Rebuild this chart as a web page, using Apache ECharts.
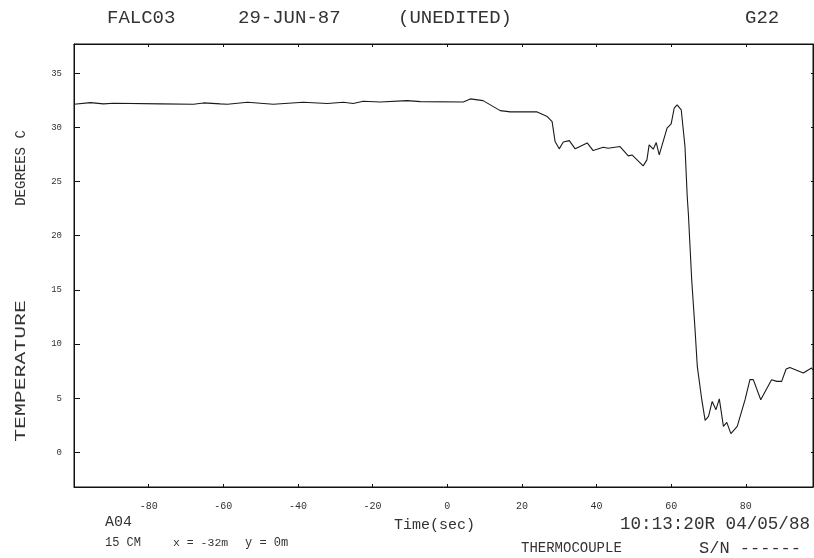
<!DOCTYPE html>
<html>
<head>
<meta charset="utf-8">
<script src="https://cdn.jsdelivr.net/npm/echarts@6/dist/echarts.min.js"></script>
<style>
html,body{margin:0;padding:0;background:#fff;}
#chart{width:814px;height:558px;}
</style>
</head>
<body>
<div id="chart"></div>
<script>
// Time axis (seconds) and temperature (degrees C)
var timeSec = [-100, -95.6, -92.1, -89.4, -76.8, -68.0, -65.3, -60.8, -58.9, -53.5,
  -46.6, -38.6, -32.1, -27.8, -25.2, -22.5, -18.0, -10.7, -7.2, 4.3,
  6.2, 9.6, 14.2, 16.9, 24.1, 26.8, 28.1, 28.9, 30.0, 31.1,
  32.7, 34.3, 37.5, 39.1, 41.8, 43.1, 46.3, 48.5, 49.5, 52.5,
  53.5, 54.1, 55.2, 56.0, 56.8, 58.9, 60.0, 60.8, 61.6, 62.7,
  63.7, 64.3, 64.6, 65.5, 66.4, 67.0, 68.2, 69.1, 70.0, 71.0,
  72.0, 72.9, 74.0, 74.9, 76.0, 77.7, 79.8, 81.1, 82.0, 84.0,
  86.9, 88.3, 89.6, 90.8, 91.8, 95.4, 97.6, 98];
var tempC = [32.14, 32.29, 32.17, 32.23, 32.17, 32.14, 32.26, 32.17, 32.14, 32.32,
  32.14, 32.32, 32.20, 32.32, 32.20, 32.42, 32.35, 32.47, 32.38, 32.35,
  32.63, 32.47, 31.55, 31.43, 31.43, 31.00, 30.54, 28.69, 28.02, 28.66,
  28.78, 28.02, 28.57, 27.86, 28.17, 28.08, 28.23, 27.37, 27.46, 26.45,
  27.00, 28.39, 27.99, 28.60, 27.46, 29.93, 30.32, 31.77, 32.08, 31.61,
  28.23, 23.62, 22.08, 15.93, 11.32, 7.93, 4.86, 2.95, 3.32, 4.70,
  3.94, 4.93, 2.40, 2.77, 1.73, 2.40, 4.86, 6.71, 6.71, 4.86,
  6.71, 6.55, 6.55, 7.69, 7.84, 7.32, 7.79, 7.6];
var xTicks = [-80, -60, -40, -20, 0, 20, 40, 60, 80];
var yTicks = [0, 5, 10, 15, 20, 25, 30, 35];

var title = ['FALC03', '29-JUN-87', '(UNEDITED)', 'G22'];
var yNames = ['DEGREES C', 'TEMPERATURE'];
var xName = 'Time(sec)';
var footLeft = ['A04', '15 CM', 'x = -32m', 'y = 0m'];
var footRight = ['10:13:20R 04/05/88', 'THERMOCOUPLE', 'S/N ------'];

var pts = timeSec.map(function (t, i) { return [t, tempC[i]]; });

var MONO = '"Liberation Mono", "DejaVu Sans Mono", monospace';
var INK = '#333';
function txt(s, x, y, size, extra, align) {
  var o = { type: 'text', x: x, y: y, silent: true,
    style: { text: s, x: 0, y: 0, font: size + 'px ' + MONO, fill: INK,
      textAlign: align || 'left', textVerticalAlign: 'middle' } };
  if (extra) { for (var k in extra) o[k] = extra[k]; }
  return o;
}

var axisBase = {
  type: 'value',
  axisLine: { show: true, onZero: false, lineStyle: { color: '#111', width: 1 } },
  splitLine: { show: false }
};
function ax(extra) {
  var o = JSON.parse(JSON.stringify(axisBase));
  for (var k in extra) o[k] = extra[k];
  return o;
}

var chart = echarts.init(document.getElementById('chart'), null, { renderer: 'canvas' });
chart.setOption({
  animation: false,
  backgroundColor: '#fff',
  grid: { left: 74, right: 1, top: 44, bottom: 71, show: true, borderColor: '#111', borderWidth: 1 },
  xAxis: [ax({
    min: -100, max: 98, interval: 20, position: 'bottom',
    axisTick: { show: true, inside: true, length: 3, customValues: xTicks, lineStyle: { color: '#111' } },
    axisLabel: { show: true, customValues: xTicks, margin: 14, color: INK, fontSize: 10, fontFamily: MONO }
  }), ax({
    min: -100, max: 98, interval: 20, position: 'top',
    axisTick: { show: true, inside: true, length: 3, customValues: xTicks, lineStyle: { color: '#111' } },
    axisLabel: { show: false }
  })],
  yAxis: [ax({
    min: -3.2, max: 37.7, position: 'left',
    axisTick: { show: true, inside: true, length: 6, customValues: yTicks, lineStyle: { color: '#111' } },
    axisLabel: { show: true, customValues: yTicks, margin: 12, color: INK, fontSize: 9, fontFamily: MONO }
  }), ax({
    min: -3.2, max: 37.7, position: 'right',
    axisTick: { show: true, inside: true, length: 2, customValues: yTicks, lineStyle: { color: '#111' } },
    axisLabel: { show: false }
  })],
  series: [{
    type: 'line', xAxisIndex: 0, yAxisIndex: 0, data: pts,
    showSymbol: false, smooth: false,
    lineStyle: { color: '#1a1a1a', width: 1.1 }
  }],
  graphic: [
    txt(title[0], 107, 18, 19),
    txt(title[1], 238, 18, 19),
    txt(title[2], 398, 18, 19),
    txt(title[3], 745, 18, 19),
    txt(yNames[0], 21, 168, 14, { rotation: Math.PI / 2 }, 'center'),
    txt(yNames[1], 21, 371, 15, { rotation: Math.PI / 2, scaleX: 1.43 }, 'center'),
    txt(xName, 394, 525, 15),
    txt(footLeft[0], 105, 522, 15),
    txt(footLeft[1], 105, 543, 12),
    txt(footLeft[2], 173, 543, 11.5),
    txt(footLeft[3], 245, 543, 12),
    txt(footRight[0], 620, 524, 17.6),
    txt(footRight[1], 521, 548, 14),
    txt(footRight[2], 699, 548, 17)
  ]
});
</script>
</body>
</html>
